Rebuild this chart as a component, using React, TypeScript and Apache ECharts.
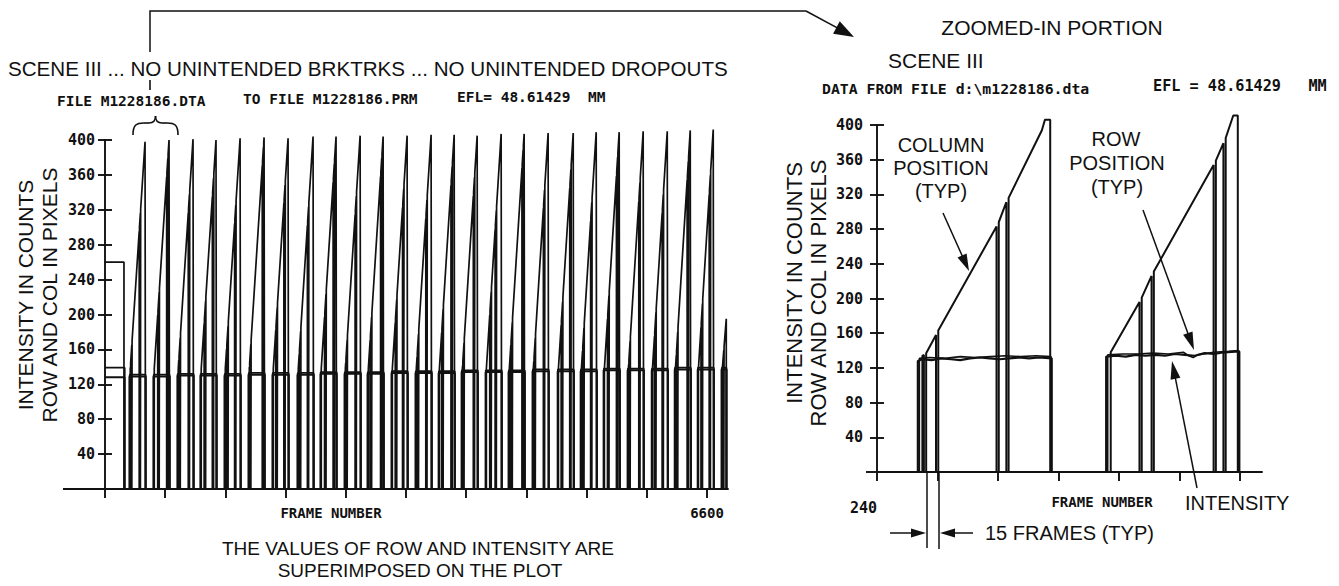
import React, { useEffect, useRef } from "react";
import * as echarts from "echarts";

// ---------- axis ticks / labels ----------
const Y_TICKS = [40, 80, 120, 160, 200, 240, 280, 320, 360, 400];
const OVERVIEW_TICKS = [0, 660, 1320, 1980, 2640, 3300, 3960, 4620, 5280, 5940, 6600];
const OVERVIEW_LABELS = [6600];
const ZOOM_TICKS = [240, 320, 400, 480, 560, 640, 720];
const ZOOM_LABELS = [240];

// ---------- overview plot (frame numbers) ----------
// initial hold before the first scan
const HOLD_END_COL = 208;
const HOLD_END_REST = 214;
const HOLD_COL = 260;
const HOLD_ROW = 139;
const HOLD_INTENSITY = 128;
const COL_START_VALUE = 138;

const scanStart = [269, 532, 795, 1047, 1311, 1574, 1837, 2111, 2363, 2627, 2879, 3142, 3405, 3658, 3910, 4173, 4425, 4688, 4963, 5215, 5467, 5730, 5994, 6246, 6498, 6760];
const scanPeak = [439, 702, 965, 1217, 1481, 1744, 2007, 2281, 2533, 2797, 3049, 3312, 3575, 3828, 4080, 4343, 4595, 4858, 5133, 5385, 5637, 5900, 6164, 6416, 6668, 6811];
const scanEnd = [444, 707, 970, 1222, 1486, 1749, 2012, 2286, 2538, 2802, 3054, 3317, 3580, 3833, 4085, 4348, 4600, 4863, 5138, 5390, 5642, 5905, 6169, 6421, 6673, 6812];
const scanPeakCol = [398, 400, 401, 400, 402, 403, 402, 404, 404, 405, 404, 405, 406, 406, 405, 407, 407, 408, 408, 409, 409, 410, 410, 411, 412, 195];
const scanIntensity = [129, 129, 130, 130, 130, 131, 131, 131, 132, 132, 132, 133, 133, 133, 134, 134, 134, 135, 135, 135, 136, 136, 136, 137, 137, 137];
const scanRow = [131, 131, 132, 132, 132, 133, 133, 133, 134, 134, 134, 135, 135, 135, 136, 136, 136, 137, 137, 137, 138, 138, 138, 139, 139, 139];
const scanDipA = [9, 46, 14, 40, 22, 9, 35, 18, 44, 12, 28, 40, 16, 33, 10, 45, 24, 13, 38, 20, 42, 11, 30, 17, 36, 8];
const scanDipB = [106, 144, 118, 130, 110, 150, 124, 108, 138, 115, 142, 120, 112, 135, 128, 104, 146, 118, 132, 109, 140, 122, 114, 136, 126, 200];

// ---------- zoomed-in plot (frames 240 .. 749) ----------
const zoomColFrames = [294, 300, 300, 302, 302, 305, 305, 318, 318, 321, 321, 398, 398, 401, 401, 411, 411, 414, 414, 458, 462, 469, 469, 549, 549, 587, 587, 590, 590, 603, 603, 606, 606, 685, 685, 688, 688, 698, 698, 701, 701, 711, 717, 717, 749];
const zoomColValues = [0, 0, 134, 135, 0, 0, 137, 158, 0, 0, 163, 283, 0, 0, 288, 311, 0, 0, 316, 394, 406, 406, 0, 0, 138, 196, 0, 0, 201, 226, 0, 0, 231, 354, 0, 0, 359, 379, 0, 0, 385, 411, 411, 0, 0];

const zoomIntensityFrames = [294, 294, 300, 312, 325, 338, 350, 363, 376, 389, 402, 415, 428, 441, 454, 471, 471, 543, 543, 556, 569, 582, 595, 608, 621, 634, 647, 660, 673, 686, 699, 719, 719];
const zoomIntensityValues = [0, 128, 130, 129, 131, 130, 129, 131, 132, 131, 130, 131, 132, 131, 132, 131, 0, 0, 133, 134, 133, 135, 134, 135, 134, 136, 135, 134, 137, 136, 138, 139, 0];

const zoomRowFrames = [296, 296, 310, 330, 350, 370, 390, 410, 430, 450, 470, 470, 545, 545, 565, 585, 605, 625, 645, 652, 658, 664, 685, 705, 718, 718];
const zoomRowValues = [0, 131, 132, 131, 133, 132, 133, 134, 133, 134, 133, 0, 0, 135, 136, 136, 137, 136, 138, 134, 132, 135, 138, 139, 140, 0];

// ---------- helpers ----------
const INK = "#111";
const SANS = '"Liberation Sans", Arial, sans-serif';
const MONO = '"DejaVu Sans Mono", monospace';

function zip(a: number[], b: number[]): number[][] {
  return a.map((v, i) => [v, b[i]]);
}

function buildOverview() {
  const col: number[][] = [[0, HOLD_COL], [HOLD_END_COL, HOLD_COL], [HOLD_END_COL, 0]];
  const intensity: number[][] = [[0, HOLD_INTENSITY], [HOLD_END_REST, HOLD_INTENSITY], [HOLD_END_REST, 0]];
  const row: number[][] = [[0, HOLD_ROW], [HOLD_END_REST + 2, HOLD_ROW], [HOLD_END_REST + 2, 0]];
  for (let i = 0; i < scanStart.length; i++) {
    const s = scanStart[i];
    const p = scanPeak[i];
    const e = scanEnd[i];
    const pk = scanPeakCol[i];
    const c0 = s + 8;
    const ramp = (f: number) => COL_START_VALUE + ((pk - COL_START_VALUE) * (f - c0)) / (p - c0);
    col.push([c0, 0], [c0, COL_START_VALUE]);
    const dips = [s + scanDipA[i], s + scanDipA[i] + 16, s + scanDipB[i], s + scanDipB[i] + 13]
      .filter((d) => d > c0 && d + 3 < p)
      .sort((a, b) => a - b);
    for (const d of dips) {
      col.push([d, ramp(d)], [d, 0], [d + 3, 0], [d + 3, ramp(d + 3)]);
    }
    col.push([p, pk], [e, pk], [e, 0]);
    intensity.push([s, 0], [s, scanIntensity[i]], [e + 2, scanIntensity[i]], [e + 2, 0]);
    row.push([s + 2, 0], [s + 2, scanRow[i]], [e + 1, scanRow[i]], [e + 1, 0]);
  }
  return { col, intensity, row };
}

function txt(text: string, x: number, y: number, size: number, o: any = {}) {
  const align = o.align ?? "left";
  return {
    type: "text",
    x,
    y,
    rotation: o.rot ?? 0,
    silent: true,
    style: {
      text,
      fill: INK,
      font: `${o.weight ?? "normal"} ${size}px ${o.family ?? SANS}`,
      textAlign: align,
      textVerticalAlign: "middle",
      align,
      verticalAlign: "middle",
    },
  };
}

function seg(x1: number, y1: number, x2: number, y2: number, w = 1.5) {
  return { type: "line", silent: true, shape: { x1, y1, x2, y2 }, style: { stroke: INK, lineWidth: w } };
}

function arrow(tail: number[], tip: number[], len: number, half: number, w = 1.5) {
  const dx = tip[0] - tail[0];
  const dy = tip[1] - tail[1];
  const L = Math.hypot(dx, dy);
  const ux = dx / L;
  const uy = dy / L;
  const bx = tip[0] - ux * len;
  const by = tip[1] - uy * len;
  return [
    seg(tail[0], tail[1], bx + ux * 2, by + uy * 2, w),
    {
      type: "polygon",
      silent: true,
      shape: { points: [[tip[0], tip[1]], [bx - uy * half, by + ux * half], [bx + uy * half, by - ux * half]] },
      style: { fill: INK },
    },
  ];
}

function bez(x1: number, y1: number, cpx1: number, cpy1: number, cpx2: number, cpy2: number, x2: number, y2: number) {
  return {
    type: "bezierCurve",
    silent: true,
    shape: { x1, y1, cpx1, cpy1, cpx2, cpy2, x2, y2 },
    style: { stroke: INK, lineWidth: 1.6, fill: "none" },
  };
}

const labelFont = { fontFamily: MONO, fontWeight: "bold", fontSize: 15, color: INK };
const axisLineStyle = { color: INK, width: 1.9 };
const plain = (v: number) => String(v);

function yAxes(gridIndex: number, margin: number) {
  return [
    {
      gridIndex,
      type: "value",
      min: 0,
      max: 400,
      interval: 40,
      axisLine: { show: true, onZero: false, lineStyle: axisLineStyle },
      axisTick: { show: true, customValues: Y_TICKS, length: 7, lineStyle: axisLineStyle },
      axisLabel: { show: true, customValues: Y_TICKS, margin, formatter: plain, ...labelFont },
      splitLine: { show: false },
    },
    {
      gridIndex,
      type: "value",
      min: 0,
      max: 400,
      interval: 40,
      position: "left",
      offset: 0,
      axisLine: { show: false },
      axisTick: { show: true, inside: true, customValues: Y_TICKS, length: 7, lineStyle: axisLineStyle },
      axisLabel: { show: false },
      splitLine: { show: false },
    },
  ];
}

function lineSeries(data: number[][], xi: number, yi: number, width: number) {
  return {
    type: "line",
    xAxisIndex: xi,
    yAxisIndex: yi,
    data,
    showSymbol: false,
    symbol: "none",
    clip: false,
    silent: true,
    lineStyle: { color: INK, width },
  };
}

export default function App() {
  const ref = useRef<HTMLDivElement>(null);

  useEffect(() => {
    if (!ref.current) return;
    const chart = echarts.init(ref.current, undefined, { renderer: "svg" });
    const ov = buildOverview();

    const graphics: any[] = [
      // headings, left
      txt("SCENE III ... NO UNINTENDED BRKTRKS ... NO UNINTENDED DROPOUTS", 8, 68, 20.6),
      txt("FILE M1228186.DTA", 57, 101, 14.5, { family: MONO, weight: "bold" }),
      txt("TO FILE M1228186.PRM", 243, 99, 14.5, { family: MONO, weight: "bold" }),
      txt("EFL= 48.61429  MM", 457, 97, 14.5, { family: MONO, weight: "bold" }),
      // headings, right
      txt("ZOOMED-IN PORTION", 1052, 27, 21, { align: "center" }),
      txt("SCENE III", 888, 60, 21),
      txt("DATA FROM FILE d:\\m1228186.dta", 822, 88, 14.8, { family: MONO, weight: "bold" }),
      txt("EFL = 48.61429   MM", 1153, 86, 15.2, { family: MONO, weight: "bold" }),
      // axis titles
      txt("INTENSITY IN COUNTS", 25, 295, 21, { align: "center", rot: Math.PI / 2 }),
      txt("ROW AND COL IN PIXELS", 49, 295, 21, { align: "center", rot: Math.PI / 2 }),
      txt("INTENSITY IN COUNTS", 794, 283, 22, { align: "center", rot: Math.PI / 2 }),
      txt("ROW AND COL IN PIXELS", 818, 293, 22, { align: "center", rot: Math.PI / 2 }),
      txt("FRAME NUMBER", 331, 513, 14, { align: "center", family: MONO, weight: "bold" }),
      txt("FRAME NUMBER", 1102, 502, 14, { align: "center", family: MONO, weight: "bold" }),
      // notes
      txt("THE VALUES OF ROW AND INTENSITY ARE", 418, 548, 19, { align: "center" }),
      txt("SUPERIMPOSED ON THE PLOT", 420, 570, 19, { align: "center" }),
      txt("COLUMN", 941, 145, 20, { align: "center" }),
      txt("POSITION", 941, 168, 20, { align: "center" }),
      txt("(TYP)", 941, 191, 20, { align: "center" }),
      txt("ROW", 1116, 139, 20, { align: "center" }),
      txt("POSITION", 1117, 163, 20, { align: "center" }),
      txt("(TYP)", 1117, 187, 20, { align: "center" }),
      txt("INTENSITY", 1185, 503, 20),
      txt("15 FRAMES (TYP)", 985, 533, 20),
      // axis line extensions left of the y axes
      seg(63, 489, 105, 489, 1.9),
      seg(866, 472, 877, 472, 1.9),
      // connector from overview to zoom
      {
        type: "polyline",
        silent: true,
        shape: { points: [[150, 52], [150, 11], [806, 11]] },
        style: { stroke: INK, lineWidth: 1.5, fill: "none" },
      },
      ...arrow([806, 11], [854, 37], 20, 7),
      seg(150, 80, 150, 90, 1.6),
      // brace over the first two scans
      bez(133, 135, 133, 125, 136, 123, 144, 123),
      seg(144, 123, 149, 123, 1.6),
      bez(149, 123, 153, 123, 155.5, 121, 155.5, 116),
      bez(178, 135, 178, 125, 175, 123, 167, 123),
      seg(167, 123, 162, 123, 1.6),
      bez(162, 123, 158, 123, 155.5, 121, 155.5, 116),
      // callouts
      ...arrow([943, 213], [969, 271], 17, 5),
      ...arrow([1143, 210], [1194, 350], 18, 5),
      ...arrow([1197, 488], [1172, 361], 18, 5),
      seg(927, 472, 927, 548, 1.5),
      seg(939, 472, 939, 549, 1.5),
      ...arrow([890, 533], [926, 533], 15, 4.5),
      ...arrow([973, 533], [940, 533], 15, 4.5),
    ];

    const option: any = {
      animation: false,
      backgroundColor: "#ffffff",
      grid: [
        { left: 105, top: 140, width: 623, height: 349 },
        { left: 877, top: 125, width: 385, height: 347 },
      ],
      xAxis: [
        {
          gridIndex: 0,
          type: "value",
          min: 0,
          max: 6830,
          axisLine: { show: true, onZero: false, lineStyle: axisLineStyle },
          axisTick: { show: true, customValues: OVERVIEW_TICKS, length: 9, lineStyle: axisLineStyle },
          axisLabel: { show: true, customValues: OVERVIEW_LABELS, margin: 17, formatter: plain, ...labelFont, fontSize: 14 },
          splitLine: { show: false },
        },
        {
          gridIndex: 1,
          type: "value",
          min: 240,
          max: 749,
          axisLine: { show: true, onZero: false, lineStyle: axisLineStyle },
          axisTick: { show: true, customValues: ZOOM_TICKS, length: 9, lineStyle: axisLineStyle },
          axisLabel: { show: true, customValues: ZOOM_LABELS, margin: 28, align: "right", formatter: plain, ...labelFont },
          splitLine: { show: false },
        },
      ],
      yAxis: [...yAxes(0, 10), ...yAxes(1, 14)],
      series: [
        lineSeries(ov.intensity, 0, 0, 2),
        lineSeries(ov.row, 0, 0, 1.8),
        lineSeries(ov.col, 0, 0, 1.7),
        lineSeries(zip(zoomIntensityFrames, zoomIntensityValues), 1, 2, 2.2),
        lineSeries(zip(zoomRowFrames, zoomRowValues), 1, 2, 1.6),
        lineSeries(zip(zoomColFrames, zoomColValues), 1, 2, 2),
      ],
      graphic: { elements: graphics },
    };

    chart.setOption(option);
    return () => chart.dispose();
  }, []);

  return (
    <div
      ref={ref}
      style={{ position: "fixed", left: 0, top: 0, width: 1339, height: 586, background: "#fff" }}
    />
  );
}
